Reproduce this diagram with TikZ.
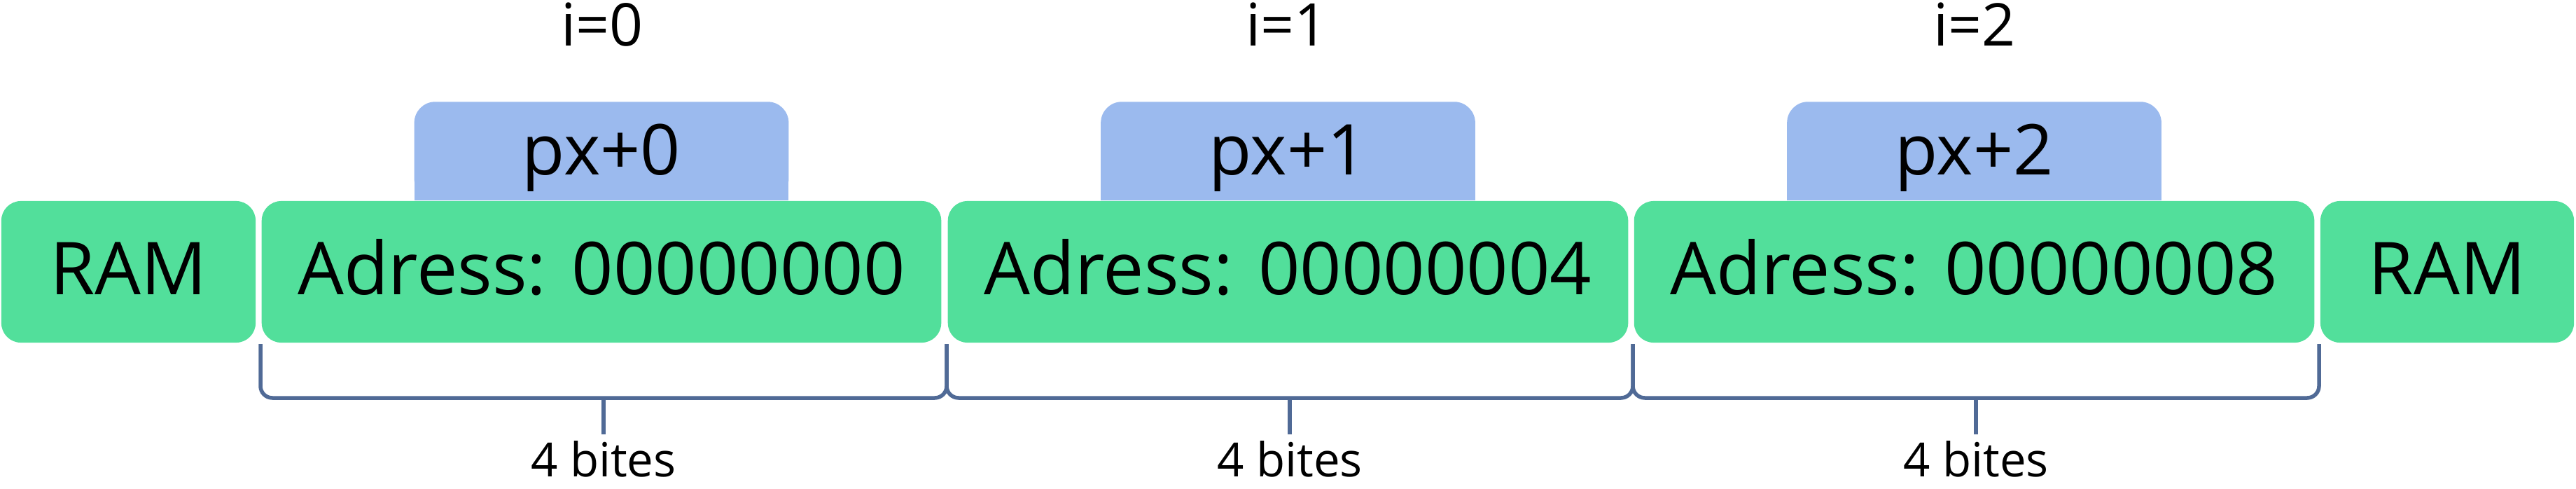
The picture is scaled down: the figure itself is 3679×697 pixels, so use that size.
\documentclass[tikz,border=0pt]{standalone}
\usepackage{fontspec}
\setmainfont{Open Sans}
\usetikzlibrary{backgrounds}
\definecolor{ramgreen}{HTML}{52DF9B}
\definecolor{pxblue}{HTML}{9BBAEE}
\definecolor{bracec}{HTML}{506A96}
\begin{document}
\begin{tikzpicture}[x=0.01cm,y=-0.01cm,
  cell/.style={fill=ramgreen, rounded corners=0.28cm, inner sep=0pt,
    minimum height=2.02cm, font=\fontsize{29.6pt}{32pt}\selectfont,
    text height=21pt, text depth=2.37pt},
  ptrbox/.style={inner sep=0pt, minimum width=5.33cm, minimum height=1.39cm,
    font=\fontsize{28.45pt}{30pt}\selectfont, text height=20.3pt, text depth=1.14pt},
  idx/.style={anchor=base, inner sep=0pt, font=\fontsize{23.9pt}{26pt}\selectfont},
  sizelbl/.style={anchor=base, inner sep=0pt, font=\fontsize{19.1pt}{21pt}\selectfont},
  brace/.style={draw=bracec, line width=0.055cm, rounded corners=0.17cm}
]
\useasboundingbox (0,0) rectangle (3679,697);

% memory cells
\node[cell, minimum width=3.63cm] (ramL) at (183.5,388) {RAM};
\node[cell, minimum width=9.70cm] (a0) at (859,388) {Adress: 00000000};
\node[cell, minimum width=9.71cm] (a1) at (1839.5,388) {Adress: 00000004};
\node[cell, minimum width=9.71cm] (a2) at (2819.5,388) {Adress: 00000008};
\node[cell, minimum width=3.62cm] (ramR) at (3495,388) {RAM};

% pointer boxes
\node[ptrbox] (p0) at (859,215.5) {px+0};
\node[ptrbox] (p1) at (1839.5,215.5) {px+1};
\node[ptrbox] (p2) at (2819.5,215.5) {px+2};
\begin{scope}[on background layer]
  \foreach \n in {p0,p1,p2} {
    \fill[pxblue, rounded corners=0.3cm] (\n.south west) rectangle (\n.north east);
    \fill[pxblue] (\n.south west) rectangle (\n.east);
  }
\end{scope}

% index labels
\node[idx] (i0) at (860,65) {i=0};
\node[idx] (i1) at (1838,65) {i=1};
\node[idx] (i2) at (2820,65) {i=2};

% braces
\coordinate (b0) at (372,491);
\coordinate (b1) at (1352,491);
\coordinate (b2) at (2332,491);
\coordinate (b3) at (3312,491);
\coordinate (m0) at (862,568);
\coordinate (m1) at (1842,568);
\coordinate (m2) at (2822,568);
\coordinate (t0) at (862,620);
\coordinate (t1) at (1842,620);
\coordinate (t2) at (2822,620);
\draw[brace] (b0) |- (m0) -| (b1);
\draw[brace] (b1) |- (m1) -| (b2);
\draw[brace] (b2) |- (m2) -| (b3);
\draw[brace] (m0) -- (t0);
\draw[brace] (m1) -- (t1);
\draw[brace] (m2) -- (t2);

\node[sizelbl] (s0) at (862,680) {4 bites};
\node[sizelbl] (s1) at (1842,680) {4 bites};
\node[sizelbl] (s2) at (2822,680) {4 bites};
\end{tikzpicture}
\end{document}
